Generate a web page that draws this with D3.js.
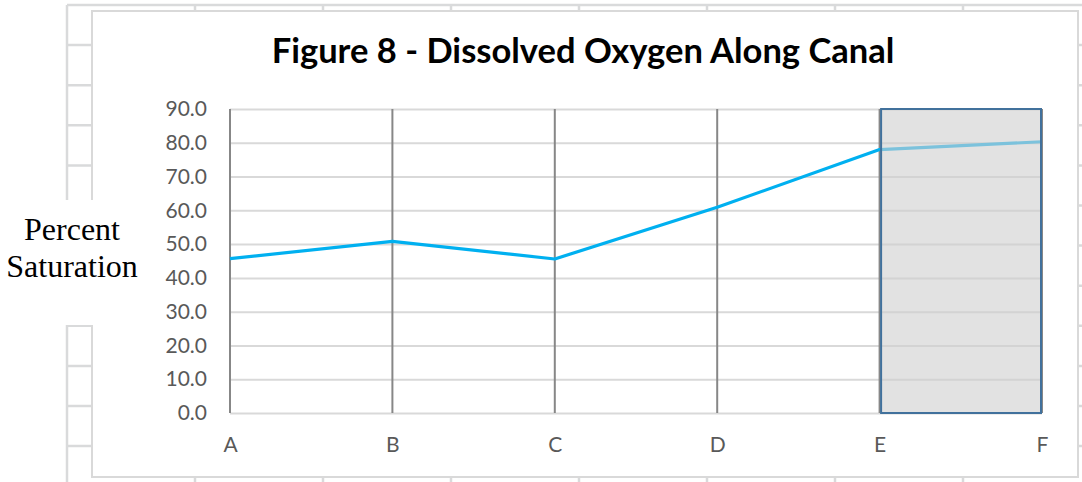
<!DOCTYPE html>
<html>
<head>
<meta charset="utf-8">
<script src="https://cdn.jsdelivr.net/npm/d3@7"></script>
<style>
  html, body { margin: 0; padding: 0; background: #ffffff; }
  svg { display: block; }
</style>
</head>
<body>
<svg id="chart" width="1082" height="482"></svg>
<script>
// ---- data ----
const categories = ["A", "B", "C", "D", "E", "F"];
const saturation = [45.7, 50.8, 45.6, 60.9, 78.0, 80.3];
const yTicks = [0, 10, 20, 30, 40, 50, 60, 70, 80, 90];
const highlightRange = ["E", "F"];
const titleText = "Figure 8 - Dissolved Oxygen Along Canal";
const yLabelLines = ["Percent", "Saturation"];

// ---- layout ----
const W = 1082, H = 482;
const svg = d3.select("#chart");
const tickFont = "Lato, 'Open Sans', sans-serif";

const x = d3.scalePoint().domain(categories).range([230, 1042]);
const y = d3.scaleLinear().domain([0, 90]).range([413, 109]);

// spreadsheet cell grid behind the chart object
const sheet = svg.append("g").attr("stroke", "#d9dadb").attr("stroke-width", 2.5);
d3.range(5, H, 40.1).forEach(yy => {
  sheet.append("line").attr("x1", 67).attr("x2", W).attr("y1", yy).attr("y2", yy);
});
d3.range(67, W, 128).forEach(xx => {
  sheet.append("line").attr("x1", xx).attr("x2", xx).attr("y1", 5).attr("y2", H);
});

// chart object box
svg.append("rect")
  .attr("x", 92).attr("y", 11).attr("width", 1078 - 92).attr("height", 477 - 11)
  .attr("fill", "#ffffff").attr("stroke", "#d9d9d9").attr("stroke-width", 2);

// axis title box (text box in sheet)
svg.append("rect")
  .attr("x", 0).attr("y", 200).attr("width", 150).attr("height", 125)
  .attr("fill", "#ffffff");
svg.append("text")
  .attr("x", 72).attr("y", 240)
  .attr("text-anchor", "middle")
  .attr("font-family", "'Liberation Serif', 'Times New Roman', serif")
  .attr("font-size", 32)
  .attr("fill", "#000")
  .selectAll("tspan").data(yLabelLines).join("tspan")
  .attr("x", 72).attr("dy", (d, i) => i === 0 ? 0 : 37)
  .text(d => d);

// title
svg.append("text")
  .attr("x", 583).attr("y", 63)
  .attr("text-anchor", "middle")
  .attr("font-family", "Lato, 'Open Sans', sans-serif")
  .attr("font-weight", "bold")
  .attr("font-size", 34.5)
  .attr("fill", "#000")
  .text(titleText);

// horizontal gridlines
const gridG = svg.append("g")
  .attr("transform", `translate(${x.range()[0]},0)`)
  .call(d3.axisLeft(y).tickValues(yTicks).tickSize(-(x.range()[1] - x.range()[0])).tickFormat(""));
gridG.select(".domain").remove();
gridG.selectAll(".tick line").attr("stroke", "#d9d9d9").attr("stroke-width", 2);

// vertical category lines (incl. value axis at A)
svg.append("g").selectAll("line").data(categories).join("line")
  .attr("x1", d => x(d)).attr("x2", d => x(d))
  .attr("y1", y(90)).attr("y2", y(0))
  .attr("stroke", "#878787").attr("stroke-width", 2);

// data line
const lineGen = d3.line().x((d, i) => x(categories[i])).y(d => y(d));
svg.append("path")
  .datum(saturation)
  .attr("d", lineGen)
  .attr("fill", "none")
  .attr("stroke", "#00b0f0")
  .attr("stroke-width", 3.2)
  .attr("stroke-linejoin", "round");

// highlighted segment E-F
const hx0 = x(highlightRange[0]) + 1.5, hx1 = x(highlightRange[1]) - 1;
svg.append("rect")
  .attr("x", hx0).attr("y", y(90))
  .attr("width", hx1 - hx0).attr("height", y(0) - y(90))
  .attr("fill", "rgb(207,207,207)").attr("fill-opacity", 0.6)
  .attr("stroke", "#41719c").attr("stroke-width", 2);

// y tick labels
const yAxis = svg.append("g")
  .attr("transform", `translate(${x.range()[0]},0)`)
  .call(d3.axisLeft(y).tickValues(yTicks).tickSize(0).tickPadding(23).tickFormat(d3.format(".1f")));
yAxis.select(".domain").remove();
yAxis.selectAll("text").attr("font-family", tickFont).attr("font-size", 21).attr("fill", "#595959");

// x tick labels
const xAxis = svg.append("g")
  .attr("transform", `translate(0,${y(0)})`)
  .call(d3.axisBottom(x).tickSize(0).tickPadding(24));
xAxis.select(".domain").remove();
xAxis.selectAll("text").attr("font-family", tickFont).attr("font-size", 21).attr("fill", "#595959");
</script>
</body>
</html>
